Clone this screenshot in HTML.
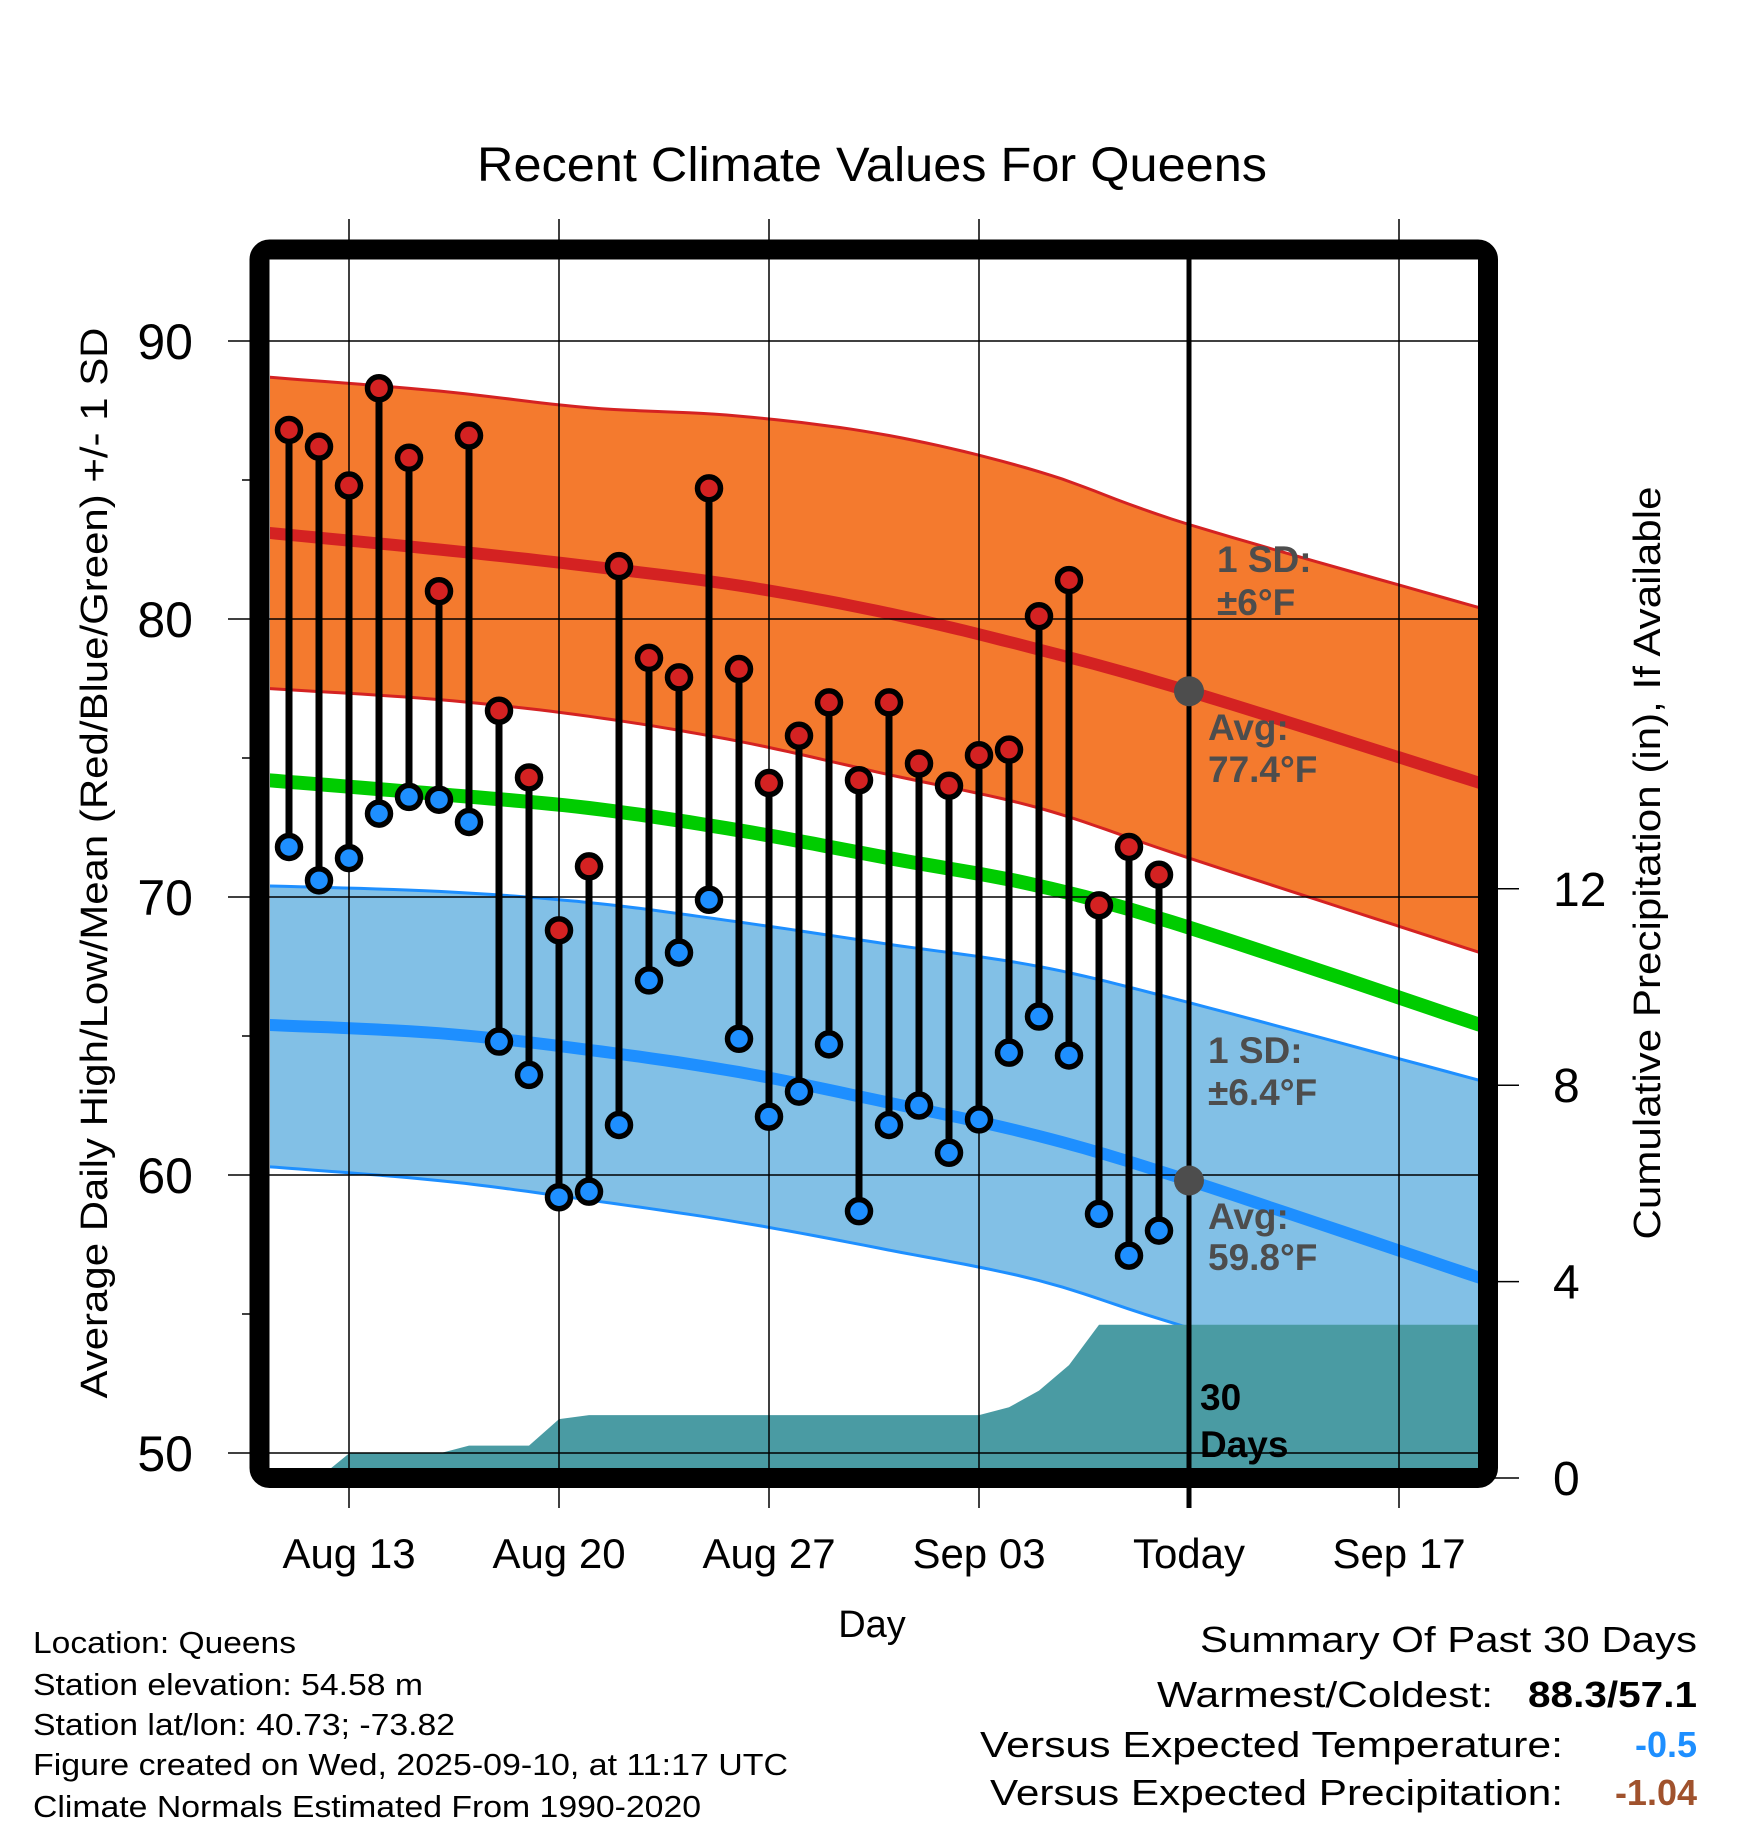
<!DOCTYPE html>
<html><head><meta charset="utf-8"><style>
html,body{margin:0;padding:0;background:#fff;}
svg{display:block;font-family:"Liberation Sans",Arial,sans-serif;}
</style></head><body>
<svg id="chart" width="1748" height="1828" viewBox="0 0 1748 1828" xmlns="http://www.w3.org/2000/svg">
<defs><clipPath id="plotclip"><rect x="270" y="260" width="1208" height="1208"/></clipPath></defs>
<text x="872" y="181" font-size="48" text-anchor="middle" textLength="790" lengthAdjust="spacingAndGlyphs">Recent Climate Values For Queens</text>
<g id="plot" clip-path="url(#plotclip)"></g>
<g id="axes"></g>
<rect x="259.5" y="249.5" width="1228.5" height="1228.5" rx="10" fill="none" stroke="#000" stroke-width="20"/>
<text transform="translate(107,863) rotate(-90)" font-size="38" text-anchor="middle" textLength="1071" lengthAdjust="spacingAndGlyphs">Average Daily High/Low/Mean (Red/Blue/Green) +/- 1 SD</text>
<text transform="translate(1660,863) rotate(-90)" font-size="38" text-anchor="middle" textLength="753" lengthAdjust="spacingAndGlyphs">Cumulative Precipitation (in), If Available</text>
<text x="872" y="1637" font-size="38" text-anchor="middle">Day</text>
<g font-size="31">
<text x="33" y="1653" textLength="263" lengthAdjust="spacingAndGlyphs">Location: Queens</text>
<text x="33" y="1695" textLength="390" lengthAdjust="spacingAndGlyphs">Station elevation: 54.58 m</text>
<text x="33" y="1735" textLength="422" lengthAdjust="spacingAndGlyphs">Station lat/lon: 40.73; -73.82</text>
<text x="33" y="1775" textLength="755" lengthAdjust="spacingAndGlyphs">Figure created on Wed, 2025-09-10, at 11:17 UTC</text>
<text x="33" y="1817" textLength="668" lengthAdjust="spacingAndGlyphs">Climate Normals Estimated From 1990-2020</text>
</g>
<g font-size="36">
<text x="1697" y="1652" text-anchor="end" textLength="497" lengthAdjust="spacingAndGlyphs">Summary Of Past 30 Days</text>
<text x="1493" y="1707" text-anchor="end" textLength="336" lengthAdjust="spacingAndGlyphs">Warmest/Coldest:</text>
<text x="1697" y="1707" text-anchor="end" font-weight="bold" textLength="169" lengthAdjust="spacingAndGlyphs">88.3/57.1</text>
<text x="1563" y="1757" text-anchor="end" textLength="583" lengthAdjust="spacingAndGlyphs">Versus Expected Temperature:</text>
<text x="1697" y="1757" text-anchor="end" font-weight="bold" fill="#1e8fff">-0.5</text>
<text x="1563" y="1805" text-anchor="end" textLength="573" lengthAdjust="spacingAndGlyphs">Versus Expected Precipitation:</text>
<text x="1697" y="1805" text-anchor="end" font-weight="bold" fill="#a0522d">-1.04</text>
</g>
</svg>
<script>
const highs=[86.8,86.2,84.8,88.3,85.8,81.0,86.6,76.7,74.3,68.8,71.1,81.9,78.6,77.9,84.7,78.2,74.1,75.8,77.0,74.2,77.0,74.8,74.0,75.1,75.3,80.1,81.4,69.7,71.8,70.8];
const lows=[71.8,70.6,71.4,73.0,73.6,73.5,72.7,64.8,63.6,59.2,59.4,61.8,67.0,68.0,69.9,64.9,62.1,63.0,64.7,58.7,61.8,62.5,60.8,62.0,64.4,65.7,64.3,58.6,57.1,58.0];
const precip=[0,0,0.5,0.5,0.5,0.5,0.66,0.66,0.66,1.2,1.28,1.28,1.28,1.28,1.28,1.28,1.28,1.28,1.28,1.28,1.28,1.28,1.28,1.28,1.44,1.78,2.3,3.12,3.12,3.12];
const normDays=[-0.7,5,10,15,20,25,30,39.7];
const normHigh=[83.1,82.5,81.9,81.2,80.2,78.9,77.4,74.1];
const normHighUp=[88.7,88.2,87.6,87.3,86.6,85.3,83.4,80.4];
const normHighLo=[77.5,77.1,76.5,75.6,74.4,73.2,71.4,68.0];
const normMean=[74.2,73.7,73.2,72.4,71.4,70.4,68.9,65.4];
const normLow=[65.4,65.1,64.5,63.7,62.6,61.4,59.8,56.3];
const normLowUp=[70.4,70.2,69.8,69.1,68.3,67.5,66.2,63.4];
const normLowLo=[60.3,59.8,59.1,58.3,57.3,56.2,54.5,51.5];
const xTickDays=[2,9,16,23,30,37];
const xTickLabels=["Aug 13","Aug 20","Aug 27","Sep 03","Today","Sep 17"];
const yTicks=[50,60,70,80,90];
const yMinor=[55,65,75,85];
const pTicks=[0,4,8,12];
const todayDay=30, todayHigh=77.4, todayLow=59.8;

const NS="http://www.w3.org/2000/svg";
const X=d=>289+30*d;
const Y=t=>341+(90-t)*27.8;
const P=p=>1478-49.1*p;
const plot=document.getElementById('plot'), axes=document.getElementById('axes');
function mk(tag,attrs,parent){const e=document.createElementNS(NS,tag);for(const k in attrs)e.setAttribute(k,attrs[k]);parent.appendChild(e);return e;}
function smooth(days,vals){
 const p=days.map((d,i)=>[X(d),Y(vals[i])]);const out=[];
 for(let i=0;i<p.length-1;i++){
  const p0=p[Math.max(0,i-1)],p1=p[i],p2=p[i+1],p3=p[Math.min(p.length-1,i+2)];
  for(let k=0;k<12;k++){const t=k/12,t2=t*t,t3=t2*t;
   const f=(a,b,c,d)=>0.5*((2*b)+(-a+c)*t+(2*a-5*b+4*c-d)*t2+(-a+3*b-3*c+d)*t3);
   out.push(f(p0[0],p1[0],p2[0],p3[0]).toFixed(1)+','+f(p0[1],p1[1],p2[1],p3[1]).toFixed(1));}
 }
 out.push(p[p.length-1][0]+','+p[p.length-1][1]);return out;
}

let b=mk('polygon',{points:smooth(normDays,normHighUp).concat(smooth(normDays,normHighLo).reverse()).join(' '),fill:'#f47a2e'},plot);


b=mk('polygon',{points:smooth(normDays,normLowUp).concat(smooth(normDays,normLowLo).reverse()).join(' '),fill:'#82c0e6'},plot);


[[normHighUp,'#d42222',3,'high-sd-upper'],[normHighLo,'#d42222',3,'high-sd-lower'],[normLowUp,'#1e8fff',3,'low-sd-upper'],[normLowLo,'#1e8fff',3,'low-sd-lower'],[normMean,'#00cc00',14,'normal-mean-line'],[normHigh,'#d42222',12,'normal-high-line'],[normLow,'#1e8fff',12,'normal-low-line']].forEach(s=>{
 const l=mk('polyline',{points:smooth(normDays,s[0]).join(' '),fill:'none',stroke:s[1],'stroke-width':s[2]},plot);
 
 
});
let pp=[X(-1)+','+P(0)];
precip.forEach((v,i)=>pp.push(X(i)+','+P(v)));
pp.push(X(40)+','+P(precip[precip.length-1]));pp.push(X(40)+','+1480);pp.push(X(-1)+','+1480);
const pf=mk('polygon',{points:pp.join(' '),fill:'#4a9ba3'},plot);


yTicks.forEach(t=>{const g=mk('line',{x1:228,x2:1478,y1:Y(t),y2:Y(t),stroke:'#000','stroke-width':1.5},axes);
 
 
 const tx=mk('text',{x:193,y:Y(t)+18,'font-size':50,'text-anchor':'end'},axes);tx.textContent=t;
 
 });
yMinor.forEach(t=>{const g=mk('line',{x1:242,x2:260,y1:Y(t),y2:Y(t),stroke:'#000','stroke-width':1.5},axes);
 
 });
pTicks.forEach(p=>{const g=mk('line',{x1:1488,x2:1519,y1:P(p),y2:P(p),stroke:'#000','stroke-width':1.5},axes);
 
 
 const tx=mk('text',{x:1553,y:P(p)+17,'font-size':48},axes);tx.textContent=p;
 
 });
xTickDays.forEach((d,i)=>{
 const isT=d===todayDay;
 const g=mk('line',{x1:X(d),x2:X(d),y1:isT?255:219,y2:1508,stroke:'#000','stroke-width':isT?5:1.5},axes);
 
 
 const tx=mk('text',{x:X(d),y:1568,'font-size':42,'text-anchor':'middle'},axes);tx.textContent=xTickLabels[i];
 
 });
highs.forEach((h,i)=>{
 const s=mk('line',{x1:X(i),x2:X(i),y1:Y(h),y2:Y(lows[i]),stroke:'#000','stroke-width':7},axes);
 
 
 const c1=mk('circle',{cx:X(i),cy:Y(h),r:11.5,fill:'#d42222',stroke:'#000','stroke-width':5.5},axes);
 
 
 const c2=mk('circle',{cx:X(i),cy:Y(lows[i]),r:11.5,fill:'#1e8fff',stroke:'#000','stroke-width':5.5},axes);
 
 
});
[[todayHigh,'today-high-marker'],[todayLow,'today-low-marker']].forEach(m=>{
 const c=mk('circle',{cx:X(todayDay),cy:Y(m[0]),r:15,fill:'#4d4d4d'},axes);
 
 });
const ann=[[1217,572,'1 SD:','#4d4d4d'],[1217,615,'±6°F','#4d4d4d'],[1208,740,'Avg:','#4d4d4d'],[1208,782,'77.4°F','#4d4d4d'],
[1208,1063,'1 SD:','#4d4d4d'],[1208,1105,'±6.4°F','#4d4d4d'],[1208,1229,'Avg:','#4d4d4d'],[1208,1270,'59.8°F','#4d4d4d'],
[1200,1410,'30','#000'],[1200,1457,'Days','#000']];
ann.forEach(a=>{const t=mk('text',{x:a[0],y:a[1],'font-size':37,'font-weight':'bold',fill:a[3]},axes);t.textContent=a[2];
 
 });
</script>
</body></html>
